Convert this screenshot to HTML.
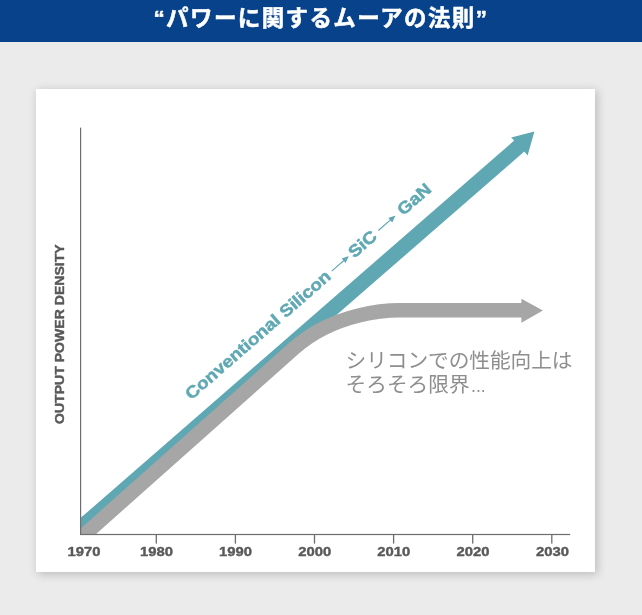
<!DOCTYPE html>
<html><head><meta charset="utf-8"><title>Power Moore</title>
<style>
html,body{margin:0;padding:0;}
body{width:642px;height:615px;background:#ebebeb;position:relative;overflow:hidden;font-family:"Liberation Sans",sans-serif;}
#hdr{position:absolute;left:0;top:0;width:642px;height:42px;background:#07428a;}
#card{position:absolute;left:36px;top:89px;width:559px;height:483px;background:#fff;box-shadow:1.5px 1.5px 9px 1px rgba(0,0,0,0.2);}
svg{position:absolute;left:0;top:0;will-change:transform;}
text{font-family:"Liberation Sans",sans-serif;font-weight:bold;stroke-linejoin:round;}
</style></head><body>
<div id="hdr"></div>
<div id="card"></div>
<svg width="642" height="615" viewBox="0 0 642 615">
<defs><clipPath id="plot"><rect x="81" y="90" width="520" height="444"/></clipPath></defs>
<g fill="#fff" stroke="#fff" stroke-width="0.5" stroke-linejoin="round"><text x="153.5" y="25.8" font-size="22.5" textLength="333.5" lengthAdjust="spacing" style="font-family:'Liberation Sans','Noto Sans CJK JP',sans-serif;font-weight:bold;">“パワーに関するムーアの法則”</text></g>
<g clip-path="url(#plot)">
<polygon fill="#5fa8b3" points="60,535.9 514.1,140.6 511.2,137.55 534.4,131.6 527.6,155.55 524.3,151.5 60,555.7"/>
<path fill="none" stroke="#a6a6a6" stroke-width="14.4" d="M60,556.5 L294.13,348.13 C335.36,311.43 390,310.2 400,310.2 L522,310.2"/>
<polygon fill="#a6a6a6" points="521.4,298.7 542.9,310.5 521.4,322.8"/>
</g>
<rect x="80" y="127.6" width="1.2" height="407" fill="#6e6e6e"/>
<rect x="80" y="533.9" width="490.2" height="1.2" fill="#6e6e6e"/>
<rect x="155.65" y="534" width="1.3" height="9.6" fill="#6e6e6e"/><rect x="234.75" y="534" width="1.3" height="9.6" fill="#6e6e6e"/><rect x="313.85" y="534" width="1.3" height="9.6" fill="#6e6e6e"/><rect x="392.95" y="534" width="1.3" height="9.6" fill="#6e6e6e"/><rect x="472.05" y="534" width="1.3" height="9.6" fill="#6e6e6e"/><rect x="551.15" y="534" width="1.3" height="9.6" fill="#6e6e6e"/>
<g fill="#595959" stroke="#595959" stroke-width="0.4" font-size="13.4"><text x="67.5" y="556.3" textLength="33.0" lengthAdjust="spacingAndGlyphs">1970</text><text x="140.0" y="556.3" textLength="33.0" lengthAdjust="spacingAndGlyphs">1980</text><text x="219.1" y="556.3" textLength="33.0" lengthAdjust="spacingAndGlyphs">1990</text><text x="298.2" y="556.3" textLength="33.0" lengthAdjust="spacingAndGlyphs">2000</text><text x="377.3" y="556.3" textLength="33.0" lengthAdjust="spacingAndGlyphs">2010</text><text x="456.4" y="556.3" textLength="33.0" lengthAdjust="spacingAndGlyphs">2020</text><text x="536.1" y="556.3" textLength="33.0" lengthAdjust="spacingAndGlyphs">2030</text></g>
<text transform="translate(64.1,424) rotate(-90)" fill="#595959" stroke="#595959" stroke-width="0.4" font-size="13.1" textLength="179.7" lengthAdjust="spacingAndGlyphs">OUTPUT POWER DENSITY</text>
<g transform="translate(191.3,400.4) rotate(-41.0)" fill="#5fa8b3" stroke="#5fa8b3" stroke-width="0.5" font-size="16.8">
<text x="0" y="0" textLength="186.5" lengthAdjust="spacingAndGlyphs">Conventional Silicon</text>
<path d="M190.8,-5.5 H208.5 M212,-5.5 l-4.8,-2.1 v4.2 z" stroke-width="1.15"/>
<text x="215.8" y="0" textLength="32" lengthAdjust="spacingAndGlyphs">SiC</text>
<path d="M252.6,-5.5 H270.3 M273.8,-5.5 l-4.8,-2.1 v4.2 z" stroke-width="1.15"/>
<text x="280.8" y="0" textLength="38.7" lengthAdjust="spacingAndGlyphs">GaN</text>
</g>
<g fill="#8e8e8e" style="font-family:'Liberation Sans','Noto Sans CJK JP',sans-serif;font-weight:normal;">
<text x="345.5" y="367.5" font-size="20.7" textLength="227" lengthAdjust="spacing" style="font-family:'Liberation Sans','Noto Sans CJK JP',sans-serif;font-weight:normal;">シリコンでの性能向上は</text>
<text x="345.5" y="392.4" font-size="20.7" style="font-family:'Liberation Sans','Noto Sans CJK JP',sans-serif;font-weight:normal;">そろそろ限界<tspan x="471.1" font-size="17.6">...</tspan></text>
</g>
</svg>
</body></html>
